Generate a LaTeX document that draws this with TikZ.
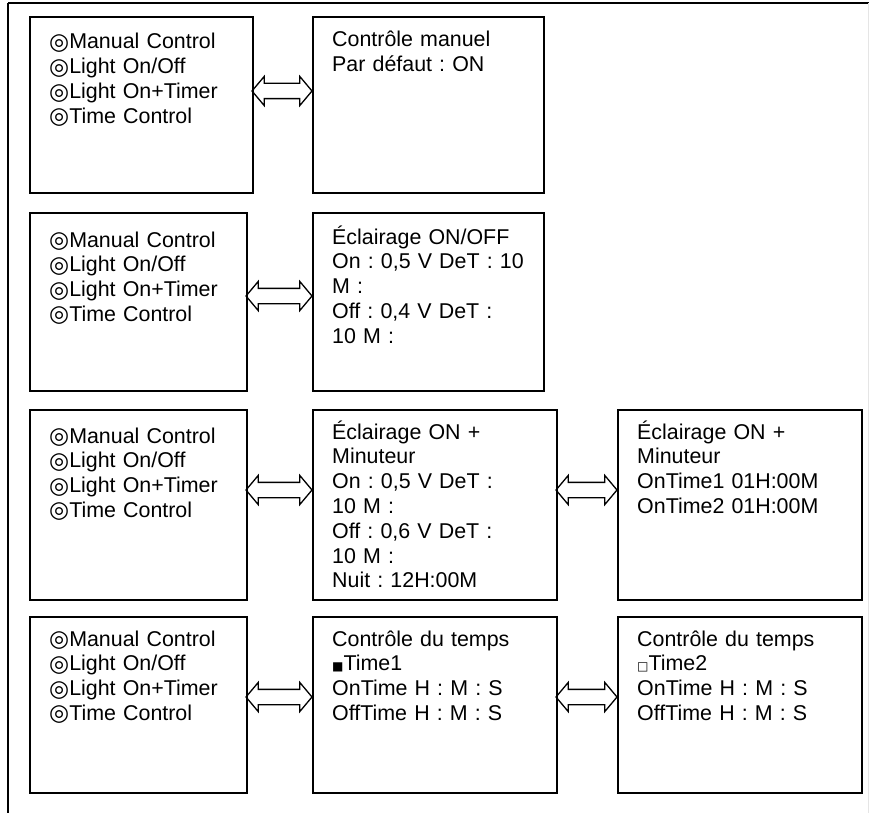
\documentclass[tikz,border=0pt]{standalone}
\usepackage{fontspec}
\setmainfont{Liberation Sans}
\newfontfamily\symfont{DejaVu Sans}
\usetikzlibrary{shapes.arrows}
\frenchspacing

\tikzset{
    screen/.style={draw, line width=1.6pt, inner sep=0pt, anchor=north west},
    menu/.style={anchor=base west, align=left, text width=220pt, inner sep=0pt, font=\fontsize{21.4}{24.8}\selectfont},
    swap/.style={double arrow, draw, line width=1.3pt, inner xsep=0pt, inner ysep=7pt,
        double arrow head extend=7pt, double arrow tip angle=100},
}
\newcommand{\opt}{\smash{\symfont\fontsize{23}{24}\selectfont\raisebox{-0.5pt}{◎}}}
\newcommand{\selbox}{{\symfont\fontsize{12}{12}\selectfont ■}}
\newcommand{\unselbox}{{\symfont\fontsize{12}{12}\selectfont □}}

\begin{document}
\begin{tikzpicture}[x=1pt, y=-1pt]
    \useasboundingbox (0,0) rectangle (869,813);
    % outer frame
    \draw[line width=2pt] (8,3) -- (869,3);
    \draw[line width=1.5pt] (8,3) -- (8,813);
    \draw[black!10] (868,3) -- (868,813);

    % screens
    \node (l1) [screen, minimum width=223, minimum height=176] at (29,16) {};
    \node (m1) [screen, minimum width=231, minimum height=176] at (312,16) {};
    \node (l2) [screen, minimum width=217, minimum height=178] at (29,212) {};
    \node (m2) [screen, minimum width=231, minimum height=178] at (312,212) {};
    \node (l3) [screen, minimum width=217, minimum height=190] at (29,409) {};
    \node (m3) [screen, minimum width=244, minimum height=190] at (312,409) {};
    \node (r3) [screen, minimum width=244, minimum height=190] at (617,409) {};
    \node (l4) [screen, minimum width=217, minimum height=176] at (29,616) {};
    \node (m4) [screen, minimum width=244, minimum height=176] at (312,616) {};
    \node (r4) [screen, minimum width=244, minimum height=176] at (617,616) {};

    % screen texts
    \node (tl1) [menu] at ([shift={(20,33)}]l1.north west) {\opt Manual Control\\\opt Light On/Off\\\opt Light On+Timer\\\opt Time Control};
    \node (tm1) [menu] at ([shift={(20,31)}]m1.north west) {Contrôle manuel\\Par défaut : ON};
    \node (tl2) [menu] at ([shift={(20,35)}]l2.north west) {\opt Manual Control\\\opt Light On/Off\\\opt Light On+Timer\\\opt Time Control};
    \node (tm2) [menu] at ([shift={(20,32)}]m2.north west) {Éclairage ON/OFF\\On : 0,5 V DeT : 10\\M :\\Off : 0,4 V DeT :\\10 M :};
    \node (tl3) [menu] at ([shift={(20,34)}]l3.north west) {\opt Manual Control\\\opt Light On/Off\\\opt Light On+Timer\\\opt Time Control};
    \node (tm3) [menu] at ([shift={(20,30)}]m3.north west) {Éclairage ON +\\Minuteur\\On : 0,5 V DeT :\\10 M :\\Off : 0,6 V DeT :\\10 M :\\Nuit : 12H:00M};
    \node (tr3) [menu] at ([shift={(20,30)}]r3.north west) {Éclairage ON +\\Minuteur\\OnTime1 01H:00M\\OnTime2 01H:00M};
    \node (tl4) [menu] at ([shift={(20,30)}]l4.north west) {\opt Manual Control\\\opt Light On/Off\\\opt Light On+Timer\\\opt Time Control};
    \node (tm4) [menu] at ([shift={(20,30)}]m4.north west) {Contrôle du temps\\\selbox Time1\\OnTime H : M : S\\OffTime H : M : S};
    \node (tr4) [menu] at ([shift={(20,30)}]r4.north west) {Contrôle du temps\\\unselbox Time2\\OnTime H : M : S\\OffTime H : M : S};

    % arrows between screens
    \node (a1) [swap, minimum height=60] at (282,91) {};
    \node (a2) [swap, minimum height=66] at (279,296) {};
    \node (a3) [swap, minimum height=66] at (279,490) {};
    \node (b3) [swap, minimum height=61] at (586.5,490) {};
    \node (a4) [swap, minimum height=66] at (279,697) {};
    \node (b4) [swap, minimum height=61] at (586.5,697) {};
\end{tikzpicture}
\end{document}
